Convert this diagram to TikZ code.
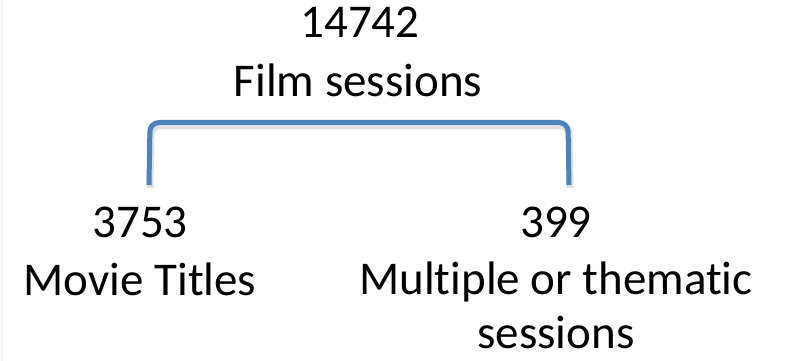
\documentclass[tikz,border=0pt]{standalone}
\usepackage{fontspec}
\setmainfont[Ligatures=NoCommon]{Carlito}
\definecolor{bracketblue}{HTML}{4F81BD}
\begin{document}
\begin{tikzpicture}[x=1pt,y=-1pt,
  lbl/.style={anchor=base,inner sep=0pt,font=\fontsize{47}{59}\selectfont,text=black},
  bracketline/.style={draw=bracketblue,line width=5pt,rounded corners=9pt},
  bracketshadow/.style={draw=black,opacity=0.12,line width=7pt,rounded corners=9pt}]
\useasboundingbox (0,0) rectangle (788,361);
\fill[white] (0,0) rectangle (788,361);
\draw[gray!12,line width=2pt] (2,0) -- (2,361);
% labels
\node[lbl] (top1) at (360,38) {14742};
\node[lbl] (top2) at (358,97) {Film sessions};
\node[lbl] (l1) at (140,237) {3753};
\node[lbl] (l2) at (140,295) {Movie Titles};
\node[lbl] (r1) at (556,237) {399};
\node[lbl] (r2) at (556,294) {Multiple or thematic};
\node[lbl] (r3) at (556,348) {sessions};
% bracket
\coordinate (bl) at (149,185);
\coordinate (blt) at (150,122.5);
\coordinate (brt) at (568,122.5);
\coordinate (br) at (569,185);
\path[bracketshadow] ([shift={(1,3)}]bl) -- ([shift={(1,3)}]blt) -- ([shift={(1,3)}]brt) -- ([shift={(1,3)}]br);
\path[bracketline] (bl) -- (blt) -- (brt) -- (br);
\end{tikzpicture}
\end{document}
